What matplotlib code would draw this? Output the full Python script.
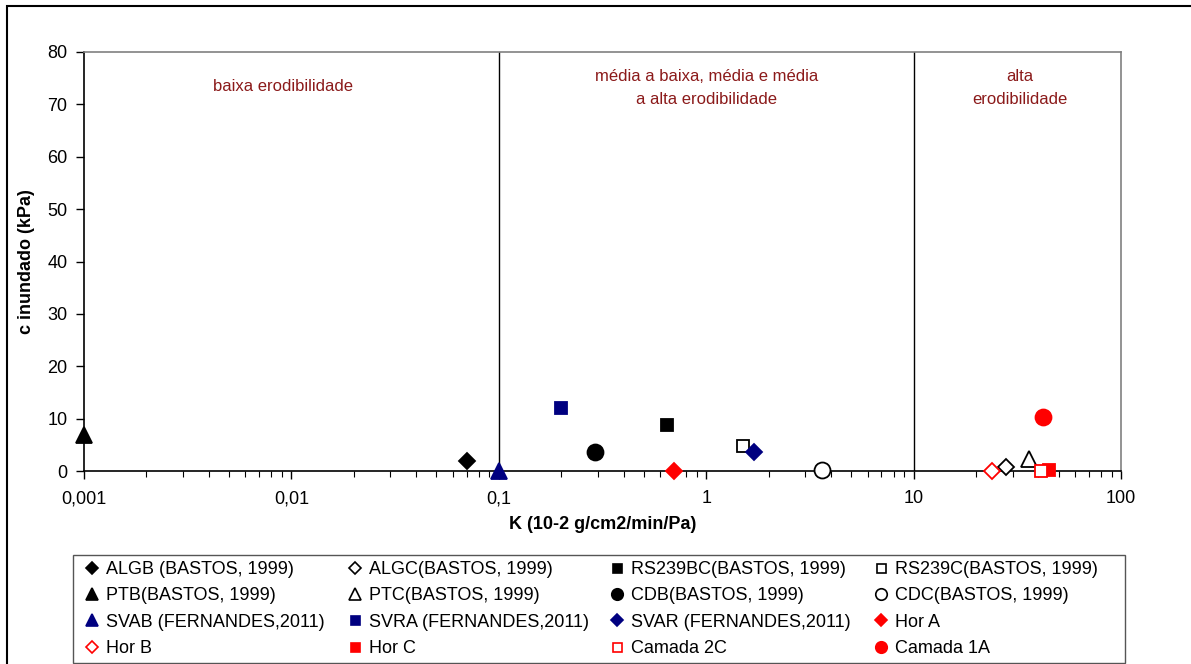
import matplotlib
matplotlib.use("Agg")
import matplotlib.pyplot as plt
from matplotlib.lines import Line2D
from matplotlib.patches import Rectangle
from matplotlib.ticker import FixedLocator, LogLocator, NullFormatter

plt.rcParams['font.family'] = ['Liberation Sans', 'DejaVu Sans']

# ---- data (row-major legend order) ----
names = ["ALGB (BASTOS, 1999)", "ALGC(BASTOS, 1999)", "RS239BC(BASTOS, 1999)", "RS239C(BASTOS, 1999)",
         "PTB(BASTOS, 1999)", "PTC(BASTOS, 1999)", "CDB(BASTOS, 1999)", "CDC(BASTOS, 1999)",
         "SVAB (FERNANDES,2011)", "SVRA (FERNANDES,2011)", "SVAR (FERNANDES,2011)", "Hor A",
         "Hor B", "Hor C", "Camada 2C", "Camada 1A"]
k_values = [0.07, 28, 0.65, 1.5,
            0.001, 36, 0.29, 3.6,
            0.1, 0.2, 1.7, 0.7,
            24, 45, 41, 42]
c_values = [2.0, 0.8, 8.8, 4.8,
            6.9, 2.3, 3.6, 0.2,
            0.0, 12.0, 3.7, 0.0,
            0.0, 0.2, 0.0, 10.3]
x_ticks = [0.001, 0.01, 0.1, 1, 10, 100]
x_ticklabels = ["0,001", "0,01", "0,1", "1", "10", "100"]
y_ticks = [0, 10, 20, 30, 40, 50, 60, 70, 80]
limits_k = [0.1, 10]
zone_texts = ["baixa erodibilidade", "média a baixa, média e média\na alta erodibilidade", "alta\nerodibilidade"]

# ---- styles ----
NAVY = "#000080"
RED = "#FF0000"
markers = ['D', 'D', 's', 's', '^', '^', 'o', 'o', '^', 's', 'D', 'D', 'D', 's', 's', 'o']
colors = ['k', 'k', 'k', 'k', 'k', 'k', 'k', 'k', NAVY, NAVY, NAVY, RED, RED, RED, RED, RED]
filled = [True, False, True, False, True, False, True, False, True, True, True, True, False, True, False, True]
sizes = {'D': 8.5, 's': 9, '^': 11.5, 'o': 11.5}

W, H = 1191, 664
fig = plt.figure(figsize=(W / 100, H / 100), dpi=100)
ax = fig.add_axes([84 / W, 1 - 471 / H, (1121 - 84) / W, (471 - 52) / H])
ax.set_xscale('log')
ax.set_xlim(0.001, 100)
ax.set_ylim(0, 80)

handles = []
for i in range(len(names)):
    m = markers[i]
    fc = colors[i] if filled[i] else 'white'
    ax.plot([k_values[i]], [c_values[i]], linestyle='none', marker=m, markersize=sizes[m],
            markerfacecolor=fc, markeredgecolor=colors[i], markeredgewidth=1.3,
            clip_on=False, zorder=5)
    handles.append(Line2D([], [], linestyle='none', marker=m, markersize=sizes[m] * 0.72,
                          markerfacecolor=fc, markeredgecolor=colors[i], markeredgewidth=1.2))

for kv in limits_k:
    ax.plot([kv, kv], [0, 80], color='k', lw=1.0, zorder=2)

tc = "#8B1A1A"
ax.text(0.0091, 73.4, zone_texts[0], ha='center', va='center', fontsize=12, color=tc)
ax.text(1.0, 73.1, zone_texts[1], ha='center', va='center', fontsize=12, color=tc, linespacing=1.65)
ax.text(32.6, 73.1, zone_texts[2], ha='center', va='center', fontsize=12, color=tc, linespacing=1.65)

ax.xaxis.set_major_locator(FixedLocator(x_ticks))
ax.set_xticklabels(x_ticklabels)
ax.xaxis.set_minor_locator(LogLocator(base=10, subs=range(2, 10), numticks=20))
ax.xaxis.set_minor_formatter(NullFormatter())
ax.set_yticks(y_ticks)
ax.tick_params(axis='both', which='major', labelsize=13, direction='out', length=6, width=1)
ax.tick_params(axis='x', which='major', pad=8)
ax.tick_params(axis='y', which='major', pad=6)
ax.tick_params(axis='x', which='minor', direction='out', length=4, width=0.8)
for s in ['top', 'right']:
    ax.spines[s].set_color('#808080')
    ax.spines[s].set_linewidth(1.2)
for s in ['left', 'bottom']:
    ax.spines[s].set_color('k')
    ax.spines[s].set_linewidth(1.2)

ax.set_xlabel("K (10-2 g/cm2/min/Pa)", fontsize=13, fontweight='bold', labelpad=6)
ax.set_ylabel("c inundado (kPa)", fontsize=13, fontweight='bold', labelpad=9)

# outer frame
fig.patches.append(Rectangle((7 / W, -0.2), 1.5, 1.2 - 6 / H, transform=fig.transFigure,
                             fill=False, edgecolor='k', lw=1.5))
# legend box
fig.patches.append(Rectangle((73 / W, 1 - 663 / H), (1125 - 73) / W, (663 - 555) / H,
                             transform=fig.transFigure, fill=False, edgecolor='#555555', lw=1.0))

col_x = [85, 348, 610, 874]
for c in range(4):
    idx = [c, c + 4, c + 8, c + 12]
    leg = fig.legend([handles[j] for j in idx], [names[j] for j in idx],
                     loc='upper left', bbox_to_anchor=(col_x[c] / W, 1 - 561 / H),
                     frameon=False, fontsize=13, handlelength=0.8, handletextpad=0.35,
                     borderpad=0, borderaxespad=0, labelspacing=0.52)

fig.savefig("out.png", dpi=100)
